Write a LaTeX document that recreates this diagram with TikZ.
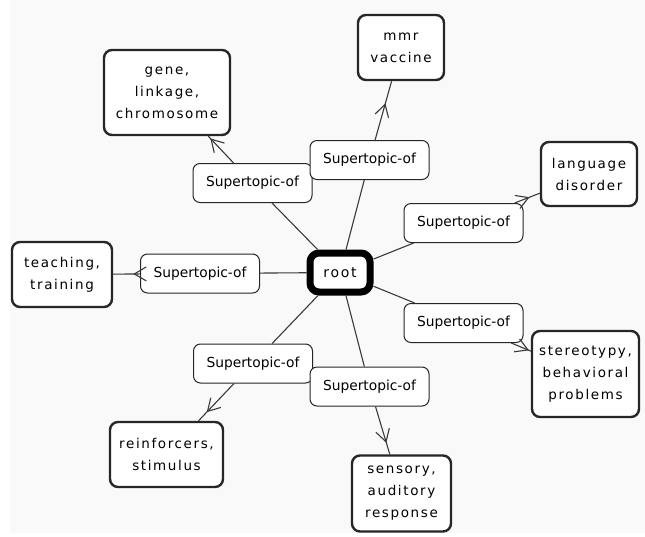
\documentclass[tikz,border=0pt]{standalone}
\usepackage{fontspec}
\setmainfont{DejaVu Sans}
\newfontfamily\topicfont[LetterSpace=12]{DejaVu Sans}
\usetikzlibrary{arrows.meta,decorations.markings}
\definecolor{bgc}{HTML}{F9F9F9}
\definecolor{edgec}{HTML}{3A3A3A}
\tikzset{
  topic/.style={draw=black!85, line width=2.4pt, rounded corners=8pt, fill=white,
    align=center, inner sep=0pt, font=\topicfont\fontsize{13.5}{22}\selectfont},
  relbox/.style={draw=black!85, line width=1pt, rounded corners=7pt, fill=white,
    minimum width=119pt, minimum height=39pt, inner sep=0pt,
    font=\fontsize{13.8}{16}\selectfont},
  rootbox/.style={draw=black, line width=7pt, rounded corners=9pt, fill=white,
    minimum width=60pt, minimum height=39pt, inner sep=0pt,
    font=\topicfont\fontsize{14}{16}\selectfont},
  link/.style={draw=edgec, line width=1.1pt},
  arr/.style={link, postaction={decorate}, decoration={markings,
    mark=at position -#1 with {\arrow[edgec, line width=1.1pt]{Straight Barb[length=12pt,width=14pt]}}}}
}
\begin{document}
\begin{tikzpicture}[x=1pt,y=-1pt]
\useasboundingbox (0,0) rectangle (645,536);
\fill[bgc] (10,0) rectangle (645,533);
% topic nodes
\node[topic, minimum width=126pt, minimum height=85pt] (gene) at (167,92.5) {gene,\\linkage,\\chromosome};
\node[topic, minimum width=86pt, minimum height=65pt] (mmr) at (401,47.5) {mmr\\vaccine};
\node[topic, minimum width=96pt, minimum height=64pt] (lang) at (589,174) {language\\disorder};
\node[topic, minimum width=100pt, minimum height=65pt] (teach) at (62,274.5) {teaching,\\training};
\node[topic, minimum width=107pt, minimum height=86pt] (stereo) at (585.5,374) {stereotypy,\\behavioral\\problems};
\node[topic, minimum width=113pt, minimum height=65pt] (reinf) at (166.5,454.5) {reinforcers,\\stimulus};
\node[topic, minimum width=99pt, minimum height=76pt] (sens) at (401.5,493.5) {sensory,\\auditory\\response};
% relation nodes
\node[relbox] (rTL) at (252.5,183) {Supertopic-of};
\node[relbox] (rT) at (369.5,160) {Supertopic-of};
\node[relbox] (rRT) at (463.5,223) {Supertopic-of};
\node[relbox] (rL) at (200,273.5) {Supertopic-of};
\node[relbox] (rRB) at (463.5,323) {Supertopic-of};
\node[relbox] (rBL) at (253,363.5) {Supertopic-of};
\node[relbox] (rB) at (369.5,386.5) {Supertopic-of};
% root
\node[rootbox] (root) at (340,272.5) {root};
% connectors
\foreach \r in {rTL,rT,rRT,rL,rRB,rBL,rB} {\draw[link] (root) -- (\r);}
\draw[arr=3pt] (rTL) -- (gene);
\draw[arr=23pt] (rT) -- (mmr);
\draw[arr=11pt] (rRT) -- (lang);
\draw[arr=20pt] (rL) -- (teach);
\draw[arr=2pt] (rRB) -- (stereo);
\draw[arr=12pt] (rBL) -- (reinf);
\draw[arr=12pt] (rB) -- (sens);
\end{tikzpicture}
\end{document}
